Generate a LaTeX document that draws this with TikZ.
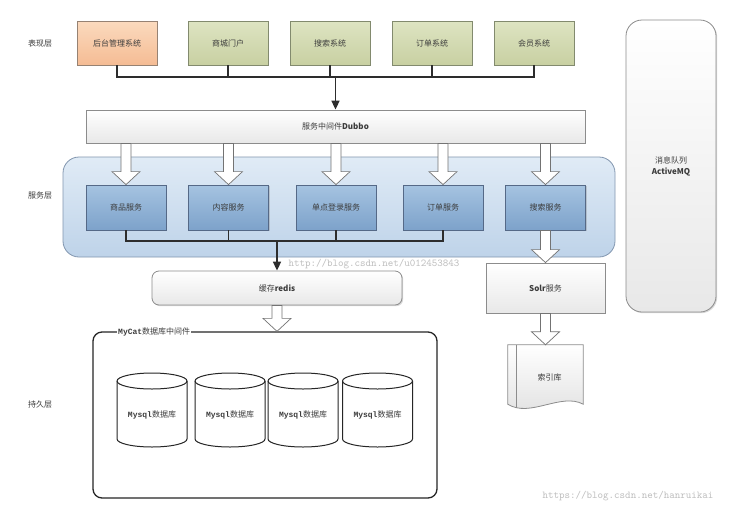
\documentclass[tikz,border=0pt]{standalone}
\usepackage{fontspec}
\setmainfont{Noto Sans CJK SC}
\newfontfamily\monob{Liberation Mono}
\usetikzlibrary{arrows.meta,calc,shadows}
\definecolor{txt}{RGB}{60,60,60}
\definecolor{orT}{RGB}{251,218,190}
\definecolor{orB}{RGB}{245,188,148}
\definecolor{orD}{RGB}{150,130,115}
\definecolor{grT}{RGB}{222,228,194}
\definecolor{grB}{RGB}{200,208,162}
\definecolor{grD}{RGB}{130,138,110}
\definecolor{blT}{RGB}{165,195,225}
\definecolor{blB}{RGB}{125,162,202}
\definecolor{blD}{RGB}{85,105,135}
\definecolor{lyT}{RGB}{224,235,246}
\definecolor{lyB}{RGB}{190,211,233}
\definecolor{lyD}{RGB}{130,150,175}
\definecolor{gyD}{RGB}{140,140,140}
\definecolor{connc}{RGB}{45,45,45}
\definecolor{wmc}{RGB}{190,190,190}
\tikzset{
  every node/.style={font=\fontsize{8}{11}\selectfont, text=txt, inner sep=1pt},
  shad/.style={drop shadow={shadow xshift=1.2pt, shadow yshift=-1.2pt, opacity=0.25, fill=black!60}},
  uibox/.style={draw=grD, line width=0.8pt, top color=grT, bottom color=grB, minimum width=80pt, minimum height=44pt, shad},
  uiorange/.style={draw=orD, top color=orT, bottom color=orB},
  svcbox/.style={draw=blD, line width=0.8pt, top color=blT, bottom color=blB, minimum width=80pt, minimum height=45pt, shad},
  layerbg/.style={draw=lyD, line width=0.8pt, top color=lyT, bottom color=lyB, rounded corners=16pt, minimum width=552pt, minimum height=100pt},
  softbox/.style={draw=gyD, line width=0.8pt, top color=white, bottom color=black!9, shad},
  layerlab/.style={text=txt},
  conn/.style={draw=connc, line width=1.6pt, line join=miter},
  connarrow/.style={conn, -{Triangle[length=9pt,width=8pt]}},
  harrowstyle/.style={draw=black!55, line width=0.7pt, fill=white},
  mycatbox/.style={draw=black!85, line width=1.3pt, rounded corners=9pt, minimum width=344pt, minimum height=166pt},
  cylstyle/.style={draw=black!85, line width=1pt},
  wmark/.style={font=\ttfamily\fontsize{10.5}{12}\selectfont, text=wmc},
}
\newcommand\harrow[2]{\path[harrowstyle] let \p1=#1, \p2=#2 in
  (\x1-5pt,\y1) -- (\x1-5pt,\y2+13pt) -- (\x1-14pt,\y2+13pt) -- (\x1,\y2) --
  (\x1+14pt,\y2+13pt) -- (\x1+5pt,\y2+13pt) -- (\x1+5pt,\y1) -- cycle;}
\newcommand\dbcyl[1]{%
  \draw[cylstyle] ([shift={(-35pt,34pt)}]#1.center) arc[start angle=180,end angle=0,x radius=35pt,y radius=8pt]
    -- ([shift={(35pt,-24pt)}]#1.center) arc[start angle=0,end angle=-180,x radius=35pt,y radius=8pt] -- cycle;
  \draw[cylstyle] ([shift={(-35pt,34pt)}]#1.center) arc[start angle=180,end angle=360,x radius=35pt,y radius=8pt];}
\begin{document}
\begin{tikzpicture}[x=1pt,y=-1pt]
\useasboundingbox[fill=white] (0,0) rectangle (731,512);
% layer labels
\node[layerlab] (l1) at (40,43) {表现层};
\node[layerlab] (l2) at (40,195) {服务层};
\node[layerlab] (l3) at (40,404) {持久层};
% presentation layer
\node[uibox,uiorange] (b1) at (117,43) {后台管理系统};
\node[uibox] (b2) at (228,43) {商城门户};
\node[uibox] (b3) at (330,43) {搜索系统};
\node[uibox] (b4) at (432,43) {订单系统};
\node[uibox] (b5) at (534,43) {会员系统};
\coordinate (bus1) at (0,77);
\node[softbox, minimum width=499pt, minimum height=33pt] (dubbo) at (335.5,126.5) {服务中间件\textbf{Dubbo}};
\draw[conn] (b1.south) -- (b1.south |- bus1) -- (b5.south |- bus1) -- (b5.south);
\draw[conn] (b2.south) -- (b2.south |- bus1);
\draw[conn] (b3.south) -- (b3.south |- bus1);
\draw[conn] (b4.south) -- (b4.south |- bus1);
\draw[connarrow] (dubbo.north |- bus1) -- (dubbo.north);
% service layer
\node[layerbg] (svc) at (339,207) {};
\node[svcbox] (s1) at (126,207.5) {商品服务};
\node[svcbox] (s2) at (228.5,207.5) {内容服务};
\node[svcbox] (s3) at (336,207.5) {单点登录服务};
\node[svcbox] (s4) at (443,207.5) {订单服务};
\node[svcbox] (s5) at (545.5,207.5) {搜索服务};
\harrow{(dubbo.south -| s1.north)}{(s1.north)}
\harrow{(dubbo.south -| s2.north)}{(s2.north)}
\harrow{(dubbo.south -| s3.north)}{(s3.north)}
\harrow{(dubbo.south -| s4.north)}{(s4.north)}
\harrow{(dubbo.south -| s5.north)}{(s5.north)}
\coordinate (bus2) at (0,241);
\draw[conn] (s1.south) -- (s1.south |- bus2) -- (s4.south |- bus2) -- (s4.south);
\draw[conn] (s2.south) -- (s2.south |- bus2);
\draw[conn] (s3.south) -- (s3.south |- bus2);
% cache
\node[softbox, rounded corners=7pt, minimum width=250pt, minimum height=34pt] (redis) at (277,288) {缓存\textbf{redis}};
\draw[connarrow] (redis.north |- bus2) -- (redis.north);
% watermarks
\node[wmark] (wm1) at (374,264) {http://blog.csdn.net/u012453843};
\node[wmark] (wm2) at (628,496) {https://blog.csdn.net/hanruikai};
% persistence
\node[mycatbox] (mycat) at (265,415) {};
\harrow{(redis.south)}{(redis.south |- mycat.north)}
\node[fill=white, inner sep=1pt, anchor=west] (mycatlab) at (117,332) {{\monob\bfseries MyCat}数据库中间件};
\node (db1) at (152,415) {{\monob\bfseries Mysql}数据库};
\node (db2) at (230,415) {{\monob\bfseries Mysql}数据库};
\node (db3) at (303,415) {{\monob\bfseries Mysql}数据库};
\node (db4) at (377.5,415) {{\monob\bfseries Mysql}数据库};
\dbcyl{db1}\dbcyl{db2}\dbcyl{db3}\dbcyl{db4}
% solr
\node[softbox, minimum width=119pt, minimum height=50pt] (solr) at (545.5,288) {\textbf{Solr}服务};
\harrow{(s5.south)}{(s5.south |- solr.north)}
\node[minimum width=75pt, minimum height=59pt, inner sep=0pt] (doc) at (545.5,374.5) {};
\draw[draw=gyD, line width=0.8pt, top color=white, bottom color=black!12]
  (doc.north west) -- (doc.north east) -- (doc.south east)
  .. controls +(-22pt,12pt) and +(22pt,-14pt) .. (doc.south west) -- cycle;
\draw[draw=gyD, line width=0.8pt] ([xshift=9pt]doc.north west) -- ([xshift=9pt,yshift=-3.6pt]doc.south west);
\node (doctext) at ([xshift=4pt,yshift=-3pt]doc.center) {索引库};
\harrow{(solr.south)}{(solr.south |- doc.north)}
% message queue
\node[softbox, rounded corners=16pt, minimum width=90pt, minimum height=292pt, align=center] (mq) at (671,166) {消息队列\\\textbf{ActiveMQ}};
\end{tikzpicture}
\end{document}
